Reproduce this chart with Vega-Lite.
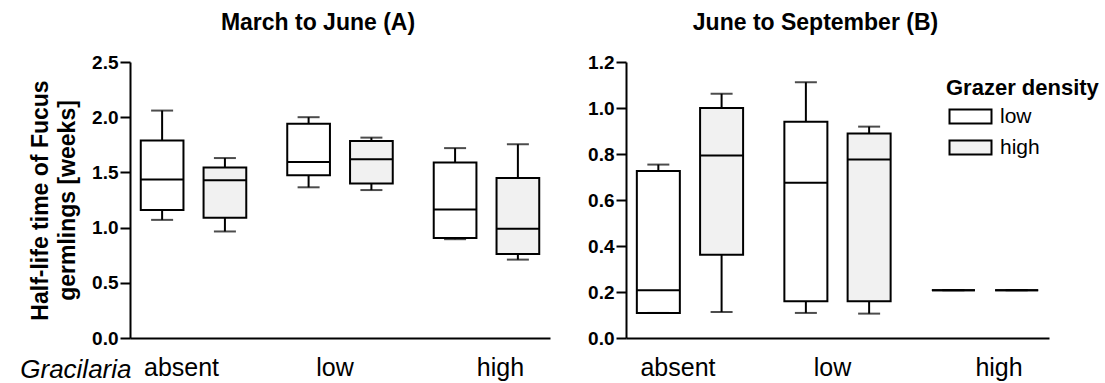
{
  "$schema": "https://vega.github.io/schema/vega-lite/v6.json",
  "background": "white",
  "padding": {"left": 19, "top": 12, "right": 5, "bottom": 4},
  "config": {
    "font": "Liberation Sans",
    "view": {"stroke": null},
    "axis": {"domainColor": "black", "domainWidth": 2, "tickColor": "black", "tickWidth": 2, "labelColor": "black", "titleColor": "black", "grid": false}
  },
  "datasets": {
    "boxes": [
      {"period": "A", "gracilaria": "absent", "grazer": "low", "min": 1.07, "q1": 1.16, "median": 1.435, "q3": 1.79, "max": 2.06},
      {"period": "A", "gracilaria": "absent", "grazer": "high", "min": 0.965, "q1": 1.09, "median": 1.43, "q3": 1.545, "max": 1.63},
      {"period": "A", "gracilaria": "low", "grazer": "low", "min": 1.365, "q1": 1.475, "median": 1.595, "q3": 1.94, "max": 2.0},
      {"period": "A", "gracilaria": "low", "grazer": "high", "min": 1.34, "q1": 1.4, "median": 1.62, "q3": 1.785, "max": 1.815},
      {"period": "A", "gracilaria": "high", "grazer": "low", "min": 0.895, "q1": 0.905, "median": 1.165, "q3": 1.59, "max": 1.72},
      {"period": "A", "gracilaria": "high", "grazer": "high", "min": 0.71, "q1": 0.76, "median": 0.99, "q3": 1.45, "max": 1.755},
      {"period": "B", "gracilaria": "absent", "grazer": "low", "min": 0.109, "q1": 0.109, "median": 0.208, "q3": 0.726, "max": 0.754},
      {"period": "B", "gracilaria": "absent", "grazer": "high", "min": 0.113, "q1": 0.362, "median": 0.793, "q3": 1.0, "max": 1.062},
      {"period": "B", "gracilaria": "low", "grazer": "low", "min": 0.109, "q1": 0.16, "median": 0.675, "q3": 0.94, "max": 1.112},
      {"period": "B", "gracilaria": "low", "grazer": "high", "min": 0.106, "q1": 0.16, "median": 0.776, "q3": 0.889, "max": 0.919},
      {"period": "B", "gracilaria": "high", "grazer": "low", "min": 0.208, "q1": 0.208, "median": 0.208, "q3": 0.208, "max": 0.208},
      {"period": "B", "gracilaria": "high", "grazer": "high", "min": 0.208, "q1": 0.208, "median": 0.208, "q3": 0.208, "max": 0.208}
    ]
  },
  "bounds": "flush",
  "spacing": 76,
  "resolve": {"scale": {"x": "independent", "y": "independent", "xOffset": "independent", "fill": "independent"}, "legend": {"fill": "independent"}},
  "hconcat": [
    {
      "width": 420,
      "height": 276,
      "title": {"text": "March to June (A)", "fontSize": 23, "fontWeight": "bold", "color": "black", "frame": "group", "anchor": "middle", "dx": -22, "offset": 0, "baseline": "alphabetic"},
      "data": {"name": "boxes"},
      "transform": [{"filter": "datum.period === 'A'"}],
      "encoding": {
        "x": {"field": "gracilaria", "type": "nominal", "sort": ["absent", "low", "high"],
          "scale": {"paddingInner": 0.2, "paddingOuter": 0.0336},
          "axis": {"title": "Gracilaria", "titleFontStyle": "italic", "titleFontWeight": "normal", "titleFontSize": 26, "titleX": 1, "titleY": 39, "titleAlign": "right", "titleBaseline": "alphabetic", "labelAngle": 0, "labelFontSize": 25, "labelPadding": 17, "ticks": false, "tickSize": 0,
            "labelOffset": {"condition": [{"test": "datum.value === 'high'", "value": 14}, {"test": "datum.value === 'absent'", "value": -12}], "value": -5}}},
        "xOffset": {"field": "grazer", "type": "nominal", "sort": ["low", "high"], "scale": {"paddingInner": 0.32, "paddingOuter": 0.093}}
      },
      "layer": [
        {"mark": {"type": "rule", "color": "black", "strokeWidth": 2},
         "encoding": {
           "y": {"field": "min", "type": "quantitative", "title": ["Half-life time of Fucus", "germlings [weeks]"], "scale": {"domain": [0, 2.5], "nice": false, "zero": true},
             "axis": {"values": [0, 0.5, 1, 1.5, 2, 2.5], "format": ".1f", "labelFontSize": 19, "labelFontWeight": "bold", "tickSize": 10, "labelPadding": 2, "titleFontSize": 23, "titleFontWeight": "bold", "titleLineHeight": 27, "titlePadding": 12}},
           "y2": {"field": "max"}}},
        {"mark": {"type": "bar", "stroke": "black", "strokeWidth": 2},
         "encoding": {
           "y": {"field": "q1", "type": "quantitative", "title": ["Half-life time of Fucus", "germlings [weeks]"]},
           "y2": {"field": "q3"},
           "fill": {"field": "grazer", "type": "nominal", "scale": {"domain": ["low", "high"], "range": ["white", "#f1f1f1"]}, "legend": null}}},
        {"mark": {"type": "bar", "stroke": "black", "strokeWidth": 2, "fill": "white", "fillOpacity": 0},
         "encoding": {
           "y": {"field": "median", "type": "quantitative", "title": ["Half-life time of Fucus", "germlings [weeks]"]},
           "y2": {"field": "median"}}},
        {"mark": {"type": "tick", "color": "black", "size": 22, "thickness": 2, "orient": "horizontal"},
         "encoding": {"y": {"field": "min", "type": "quantitative", "title": ["Half-life time of Fucus", "germlings [weeks]"]}}},
        {"mark": {"type": "tick", "color": "black", "size": 22, "thickness": 2, "orient": "horizontal"},
         "encoding": {"y": {"field": "max", "type": "quantitative", "title": ["Half-life time of Fucus", "germlings [weeks]"]}}}
      ]
    },
    {
      "width": 423,
      "height": 276,
      "title": {"text": "June to September (B)", "fontSize": 23, "fontWeight": "bold", "color": "black", "frame": "group", "anchor": "middle", "dx": -22, "offset": 0, "baseline": "alphabetic"},
      "data": {"name": "boxes"},
      "transform": [{"filter": "datum.period === 'B'"}],
      "encoding": {
        "x": {"field": "gracilaria", "type": "nominal", "sort": ["absent", "low", "high"],
          "scale": {"paddingInner": 0.2, "paddingOuter": 0.0336},
          "axis": {"title": null, "labelAngle": 0, "labelFontSize": 25, "labelPadding": 17, "ticks": false, "tickSize": 0,
            "labelOffset": {"condition": [{"test": "datum.value === 'high'", "value": 14}, {"test": "datum.value === 'absent'", "value": -12}], "value": -5}}},
        "xOffset": {"field": "grazer", "type": "nominal", "sort": ["low", "high"], "scale": {"paddingInner": 0.32, "paddingOuter": 0.093}}
      },
      "layer": [
        {"mark": {"type": "rule", "color": "black", "strokeWidth": 2},
         "encoding": {
           "y": {"field": "min", "type": "quantitative", "title": null, "scale": {"domain": [0, 1.2], "nice": false, "zero": true},
             "axis": {"values": [0, 0.2, 0.4, 0.6, 0.8, 1.0, 1.2], "format": ".1f", "labelFontSize": 19, "labelFontWeight": "bold", "tickSize": 10, "labelPadding": 2}},
           "y2": {"field": "max"}}},
        {"mark": {"type": "bar", "stroke": "black", "strokeWidth": 2},
         "encoding": {
           "y": {"field": "q1", "type": "quantitative", "title": null},
           "y2": {"field": "q3"},
           "fill": {"field": "grazer", "type": "nominal", "sort": ["low", "high"], "scale": {"domain": ["low", "high"], "range": ["white", "#f1f1f1"]},
             "legend": {"title": "Grazer density", "orient": "none", "legendX": 320, "legendY": 16, "titleFontSize": 22, "titleFontWeight": "bold", "titleColor": "black", "titlePadding": 6, "labelFontSize": 21, "labelColor": "black", "symbolType": "M-1,-1H5V1H-1Z", "symbolSize": 196, "symbolStrokeColor": "black", "symbolStrokeWidth": 2, "symbolOpacity": 1, "labelOffset": 33, "rowPadding": 8}}}},
        {"mark": {"type": "bar", "stroke": "black", "strokeWidth": 2, "fill": "white", "fillOpacity": 0},
         "encoding": {
           "y": {"field": "median", "type": "quantitative", "title": null},
           "y2": {"field": "median"}}},
        {"mark": {"type": "tick", "color": "black", "size": 22, "thickness": 2, "orient": "horizontal"},
         "encoding": {"y": {"field": "min", "type": "quantitative", "title": null}}},
        {"mark": {"type": "tick", "color": "black", "size": 22, "thickness": 2, "orient": "horizontal"},
         "encoding": {"y": {"field": "max", "type": "quantitative", "title": null}}}
      ]
    }
  ]
}
